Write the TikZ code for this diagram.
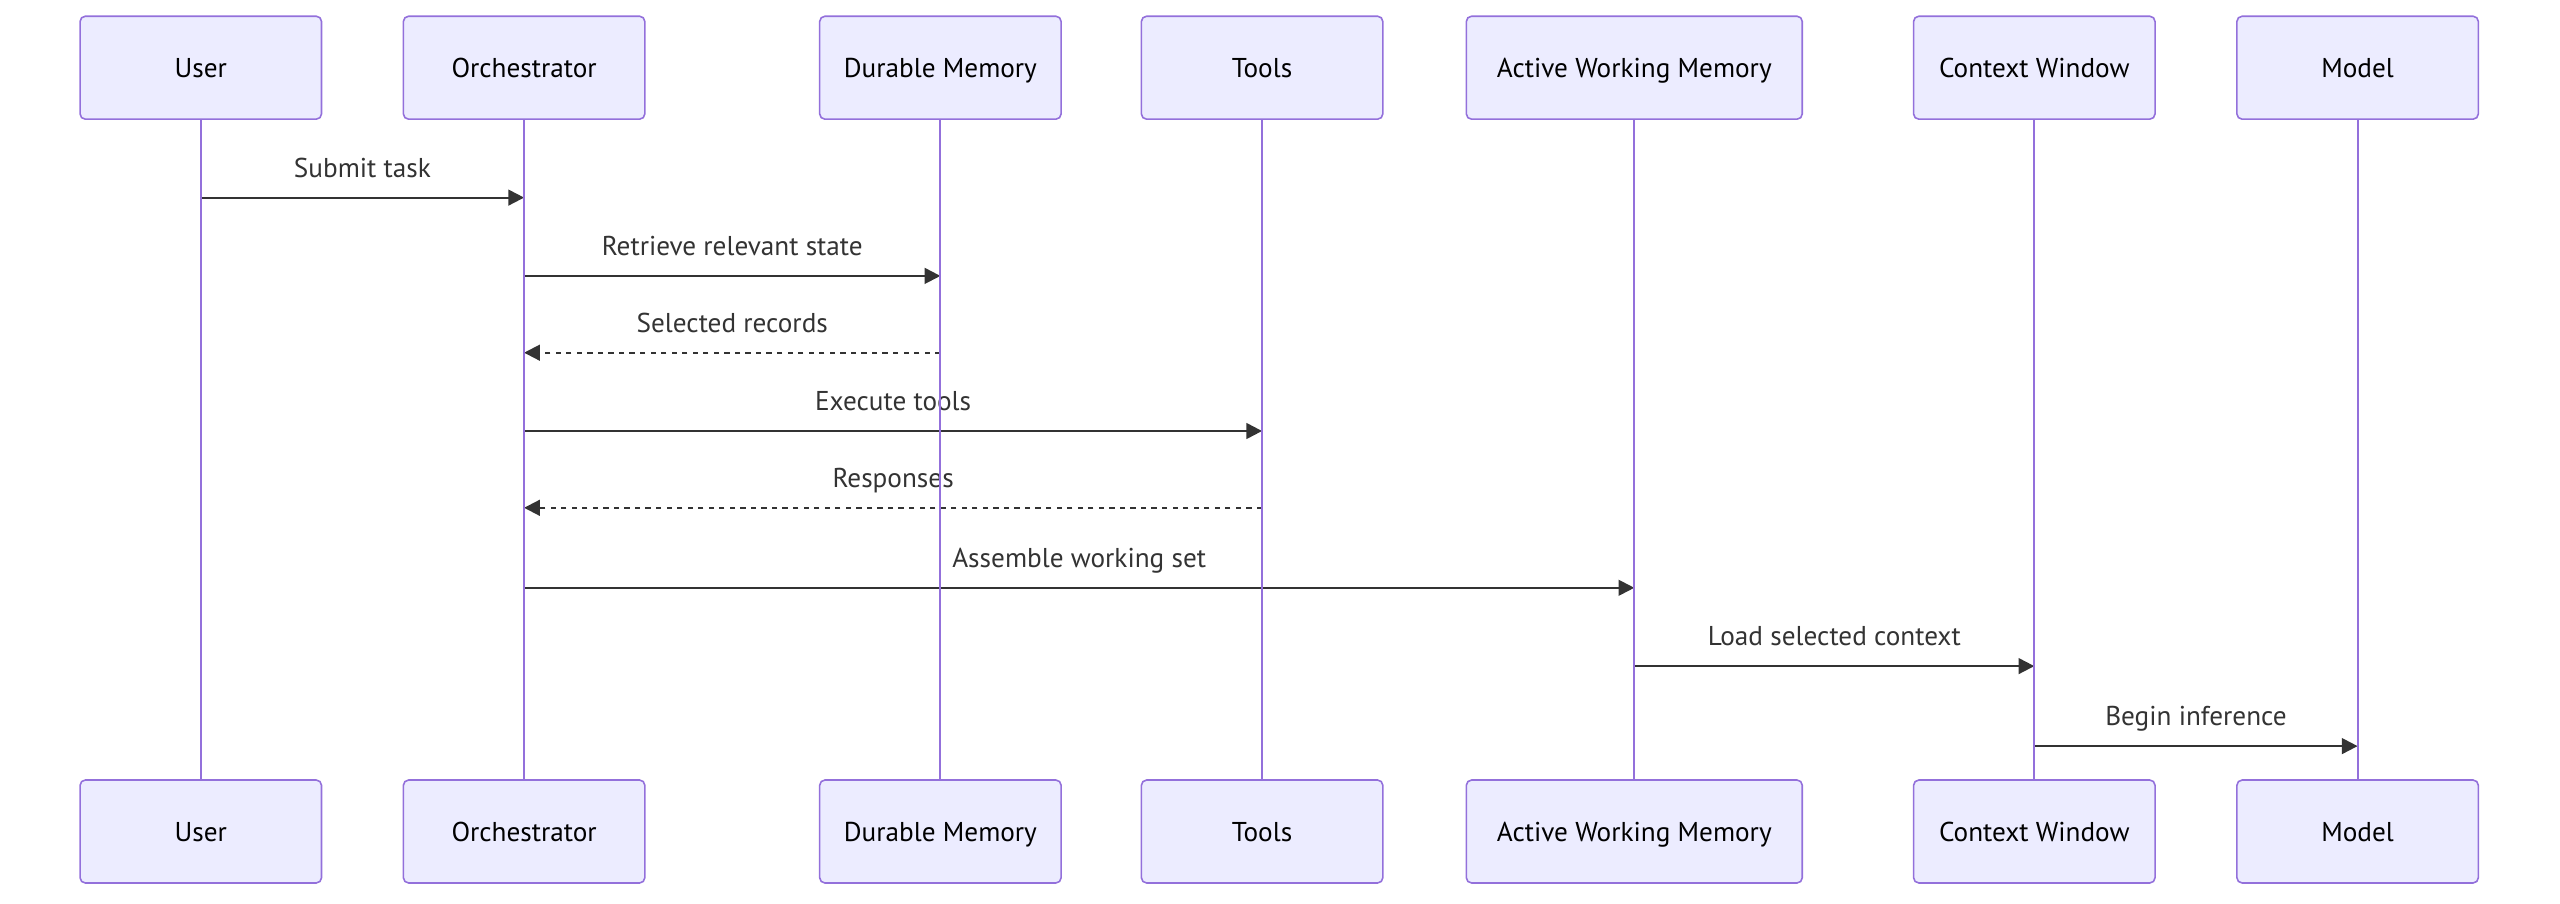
\documentclass[tikz,border=0pt]{standalone}
\usepackage{fontspec}
\setmainfont{PT Sans}
\usepackage{tikz}
\usetikzlibrary{arrows.meta,positioning,calc}
\definecolor{actfill}{HTML}{ECECFF}
\definecolor{actline}{HTML}{9370DB}
\definecolor{msgline}{HTML}{333333}

\tikzset{
  actor/.style={draw=actline,fill=actfill,rounded corners=3pt,line width=0.9pt,
                minimum width=4.83cm,minimum height=2.06cm,text height=1.2em,text depth=0.1em,
                font=\fontsize{15.5}{18}\selectfont},
  lifeline/.style={draw=actline,line width=1.1pt},
  msg/.style={draw=msgline,line width=1.2pt,-{Triangle[length=9pt,width=9pt]}},
  reply/.style={msg,dash pattern=on 3pt off 3pt},
  msglabel/.style={midway,yshift=0.6cm,text=msgline,text height=1.2em,text depth=0.1em,
                   font=\fontsize{15.5}{18}\selectfont}
}

\begin{document}
\begin{tikzpicture}[x=0.02cm,y=-0.02cm]
  \useasboundingbox (0,0) rectangle (2560,903);
  % actors, top row
  \node[actor] (uT) at (200.8,67.7) {User};
  \node[actor] (oT) at (524.1,67.7) {Orchestrator};
  \node[actor] (dT) at (940.4,67.7) {Durable Memory};
  \node[actor] (tT) at (1262.1,67.7) {Tools};
  \node[actor,minimum width=6.72cm] (aT) at (1634.3,67.7) {Active Working Memory};
  \node[actor] (cT) at (2034.3,67.7) {Context Window};
  \node[actor] (mT) at (2357.6,67.7) {Model};
  % actors, bottom row
  \node[actor] (uB) at (200.8,831.5) {User};
  \node[actor] (oB) at (524.1,831.5) {Orchestrator};
  \node[actor] (dB) at (940.4,831.5) {Durable Memory};
  \node[actor] (tB) at (1262.1,831.5) {Tools};
  \node[actor,minimum width=6.72cm] (aB) at (1634.3,831.5) {Active Working Memory};
  \node[actor] (cB) at (2034.3,831.5) {Context Window};
  \node[actor] (mB) at (2357.6,831.5) {Model};

  % messages
  \draw[msg] (uT |- 0,197.6) -- (oT |- 0,197.6) node[msglabel] {Submit task};
  \draw[msg] (oT |- 0,275.9) -- (dT |- 0,275.9) node[msglabel] {Retrieve relevant state};
  \draw[reply] (dT |- 0,352.7) -- (oT |- 0,352.7) node[msglabel] {Selected records};
  \draw[msg] (oT |- 0,431) -- (tT |- 0,431) node[msglabel] {Execute tools};
  \draw[reply] (tT |- 0,507.8) -- (oT |- 0,507.8) node[msglabel] {Responses};
  \draw[msg] (oT |- 0,587.8) -- (aT |- 0,587.8) node[msglabel] {Assemble working set};
  \draw[msg] (aT |- 0,666.1) -- (cT |- 0,666.1) node[msglabel] {Load selected context};
  \draw[msg] (cT |- 0,746.1) -- (mT |- 0,746.1) node[msglabel] {Begin inference};

  % lifelines
  \foreach \a in {u,o,d,t,a,c,m}
    \draw[lifeline] (\a T) -- (\a B);
\end{tikzpicture}
\end{document}
